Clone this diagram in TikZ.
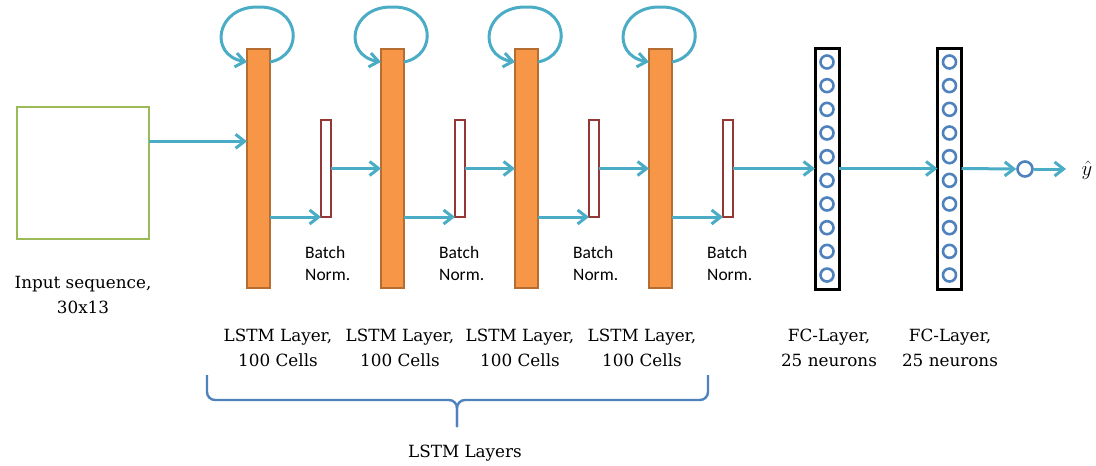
\documentclass[tikz,border=0pt]{standalone}
\usepackage{fontspec}
\setmainfont{DejaVu Serif}
\newfontfamily\bnfont{Carlito}
\usetikzlibrary{arrows.meta,calc}
\definecolor{conn}{HTML}{4BACC6}
\definecolor{lstmfill}{HTML}{F79646}
\definecolor{lstmedge}{HTML}{B66D31}
\definecolor{bnedge}{HTML}{953735}
\definecolor{inedge}{HTML}{9BBB59}
\definecolor{neuron}{HTML}{4F81BD}
\begin{document}
\begin{tikzpicture}[x=1pt,y=-1pt,
  lstmbar/.style={draw=lstmedge, fill=lstmfill, line width=2pt, minimum width=23pt, minimum height=239pt, inner sep=0pt, outer sep=0pt},
  bnbar/.style={draw=bnedge, fill=white, line width=2.4pt, minimum width=10pt, minimum height=97pt, inner sep=0pt, outer sep=0pt},
  inbox/.style={draw=inedge, line width=2.6pt, minimum width=132pt, minimum height=132pt, inner sep=0pt, outer sep=0pt},
  fcbox/.style={draw=black, line width=3pt, minimum width=24pt, minimum height=241pt, inner sep=0pt, outer sep=0pt},
  neuronc/.style={circle, draw=neuron, line width=2.6pt, minimum size=13pt, inner sep=0pt},
  flow/.style={draw=conn, line width=3pt, -{Straight Barb[length=9pt,width=14pt]}},
  seriflabel/.style={font=\fontsize{16.8}{25}\selectfont, align=center, inner sep=0pt},
  bnlabel/.style={font=\bnfont\fontsize{17.5}{22}\selectfont, align=left, inner sep=0pt, anchor=west},
  bracepath/.style={draw=neuron, line width=2.4pt, rounded corners=8pt}
]
\useasboundingbox (0,0) rectangle (1096,466);

% input block
\node[inbox] (in) at (83,173) {};
\node[seriflabel] (inlab) at (83,295) {Input sequence,\\30x13};

% LSTM layers and batch normalisation bars
\foreach \i/\x in {1/258.5, 2/392.5, 3/526.5, 4/660.5} {
  \node[lstmbar] (L\i) at (\x,168.5) {};
  \node[bnbar] (B\i) at ({\x+67.5},168.5) {};
  \node[bnlabel] (BL\i) at ($(B\i.south)+(-21,46)$) {Batch\\Norm.};
}

% fully connected layers
\foreach \i/\x in {1/827, 2/949.5} {
  \node[fcbox] (F\i) at (\x,168.5) {};
  \foreach \k in {0,...,9} {
    \node[neuronc] (F\i n\k) at ($(F\i.center)+(0,{-106.5+23.67*\k})$) {};
  }
}

% output neuron
\node[neuronc, minimum size=15pt, fill=white] (out) at (1025,169) {};
\coordinate (yend) at (1066,169);
\node[inner sep=0pt, font=\fontsize{21}{24}\selectfont] (yhat) at (1087,170) {$\hat{y}$};

% connectors
\coordinate (inout) at ($(in.north east)!0.26!(in.south east)$);
\draw[flow] (inout) -- (L1.west |- inout);
\foreach \i in {1,...,4} {
  \draw[flow] (L\i.east |- B\i.south) -- (B\i.south west);
  \draw[flow] ($(L\i.north)+(11.5,13)$) .. controls ($(L\i.north)+(46.5,6)$) and ($(L\i.north)+(41.5,-43)$) .. ($(L\i.north)+(0,-42)$)
     .. controls ($(L\i.north)+(-42.5,-43)$) and ($(L\i.north)+(-50.5,6)$) .. ($(L\i.north)+(-11.5,13)$);
}
\foreach \i/\j in {1/2, 2/3, 3/4} {
  \draw[flow] (B\i.east) -- (L\j.west);
}
\draw[flow] (B4.east) -- (F1.west);
\draw[flow] (F1.east) -- (F2.west);
\draw[flow] (F2.east) -- (out.west);
\draw[flow] (out.east) -- (yend);

% layer captions
\foreach \i/\x in {1/278, 2/400, 3/520, 4/642} {
  \node[seriflabel] (LL\i) at (\x,347.5) {LSTM Layer,\\100 Cells};
}
\node[seriflabel] (FL1) at (829,347.5) {FC-Layer,\\25 neurons};
\node[seriflabel] (FL2) at (950,347.5) {FC-Layer,\\25 neurons};

% brace grouping the LSTM layers
\draw[bracepath] (207,375) -- (207,400) -- (457,400) -- (457,427);
\draw[bracepath] (708,375) -- (708,400) -- (457,400) -- (457,427);
\node[seriflabel] (grp) at (465,453) {LSTM Layers};
\end{tikzpicture}
\end{document}
